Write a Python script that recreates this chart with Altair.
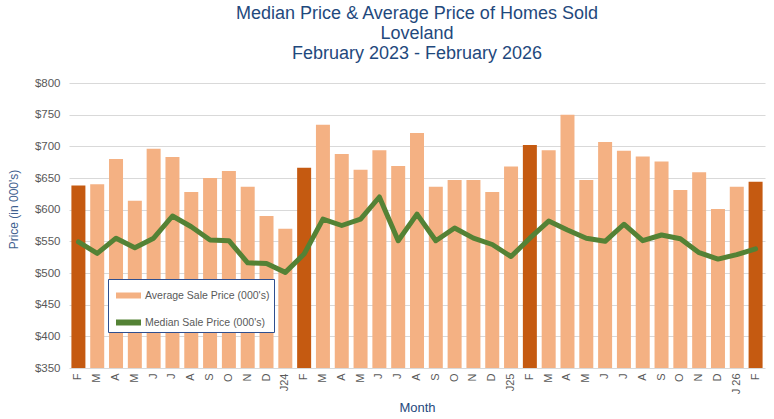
import altair as alt
import pandas as pd

# Month tick labels (Feb 2023 .. Feb 2026)
month_labels = ["F", "M", "A", "M", "J", "J", "A", "S", "O", "N", "D", "J24",
                "F", "M", "A", "M", "J", "J", "A", "S", "O", "N", "D", "J25",
                "F", "M", "A", "M", "J", "J", "A", "S", "O", "N", "D", "J 26",
                "F"]

# Average sale price (000's)
avg_price = [638, 640, 680, 614, 696, 683, 628, 650, 661, 636, 590, 570,
             666, 734, 688, 663, 694, 669, 721, 636, 647, 647, 628, 668,
             702, 694, 750, 647, 707, 693, 684, 676, 631, 659, 601, 636,
             644]

# Median sale price (000's)
med_price = [549, 531, 555, 540, 555, 590, 573, 552, 551, 516, 515, 501,
             530, 585, 575, 585, 620, 551, 593, 551, 571, 555, 545, 526,
             555, 582, 568, 555, 550, 577, 551, 560, 554, 532, 522, 529,
             538]

AVG = "Average Sale Price (000's)"
MED = "Median Sale Price (000's)"

keys = [f"{lab}|{i}" for i, lab in enumerate(month_labels)]

df_avg = pd.DataFrame({"key": keys, "label": month_labels, "value": avg_price, "series": AVG})
df_med = pd.DataFrame({"key": keys, "label": month_labels, "value": med_price, "series": MED})

FONT = "Liberation Sans"
GRAY = "#595959"

x_enc = alt.X(
    "key:N",
    scale=alt.Scale(domain=keys, paddingInner=0.256, paddingOuter=0.128),
    sort=None,
    axis=alt.Axis(
        title="Month", labelExpr="split(datum.label, '|')[0]", labelAngle=-90,
        labelFontSize=11, labelColor=GRAY, labelFont=FONT, labelPadding=5,
        ticks=False, domain=False, titleFont=FONT, titleFontSize=13,
        titleFontWeight="normal", titleColor="#1F497D", titlePadding=8,
    ),
)

y_scale = alt.Scale(domain=[350, 800], nice=False, zero=False)
y_axis = alt.Axis(
    title="Price (in 000's)", values=list(range(350, 801, 50)), format="$,.0f",
    labelFontSize=11.5, labelColor=GRAY, labelFont=FONT, labelPadding=9,
    ticks=False, domain=False, gridColor="#D9D9D9", gridWidth=1,
    titleFont=FONT, titleFontSize=12, titleFontWeight="normal",
    titleColor="#3F5F8F", titlePadding=14, titleY=126, titleAlign="center",
)

color_scale = alt.Scale(domain=[AVG, MED], range=["#F4B183", "#548235"])
legend = alt.Legend(
    orient="none", legendX=39, legendY=196, direction="vertical",
    fillColor="white", strokeColor="#2F4F8F", padding=4, rowPadding=9,
    symbolType="M-1,-0.24H1V0.24H-1Z", symbolSize=625, symbolOffset=4,
    symbolStrokeWidth=0, labelOffset=4, labelFont=FONT, labelFontSize=10.5,
    labelColor=GRAY, labelLimit=200,
)

bars = alt.Chart(df_avg).mark_bar().encode(
    x=x_enc,
    y=alt.Y("value:Q", scale=y_scale, axis=y_axis),
    y2=alt.datum(350),
    color=alt.condition(
        "datum.label == 'F'",
        alt.value("#C55A11"),
        alt.Color("series:N", scale=color_scale, legend=legend, title=None),
    ),
)

line = alt.Chart(df_med).mark_line(strokeWidth=5, strokeCap="round", strokeJoin="round").encode(
    x=x_enc,
    y=alt.Y("value:Q", scale=y_scale, axis=y_axis),
    color=alt.Color("series:N", scale=color_scale, legend=legend, title=None),
)

chart = alt.layer(bars, line).properties(
    width=696,
    height=285,
    autosize=alt.AutoSizeParams(type="none"),
    padding={"left": 69, "top": 83, "right": 9, "bottom": 51},
    title=alt.TitleParams(
        text=["Median Price & Average Price of Homes Sold", "Loveland",
              "February 2023 - February 2026"],
        anchor="middle", font=FONT, fontSize=18, fontWeight="normal",
        color="#1F497D", lineHeight=20, baseline="bottom", offset=-4,
    ),
).configure_view(stroke=None)

chart.save("out.html", embed_options={"renderer": "svg", "actions": False})
